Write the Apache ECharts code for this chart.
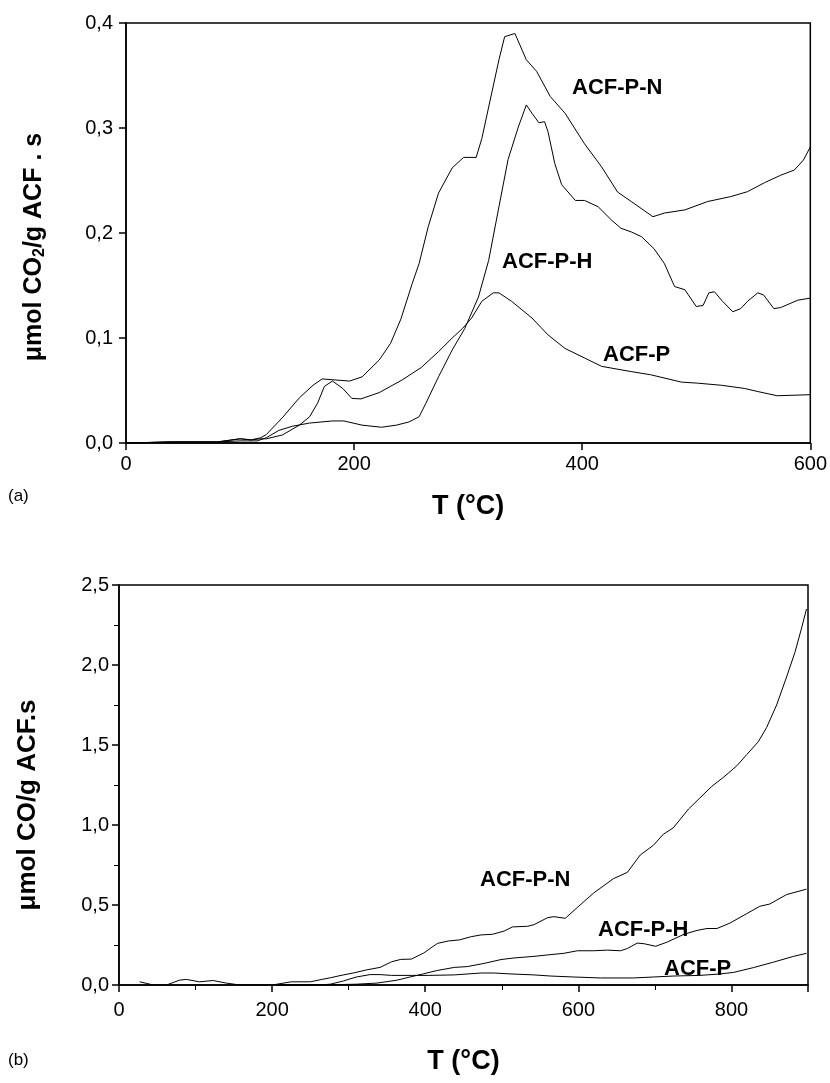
<!DOCTYPE html>
<html><head><meta charset="utf-8">
<script src="https://cdn.jsdelivr.net/npm/echarts@6/dist/echarts.min.js"></script>
<style>html,body{margin:0;padding:0;background:#fff}#c{width:830px;height:1083px}</style>
</head><body><div id="c"></div>
<script>
// ---------- Panel (a): CO2 evolution ----------
const aTicksX = [0, 200, 400, 600];
const aTicksY = ['0,0', '0,1', '0,2', '0,3', '0,4'];
const aN_T = [0,40,80,100,110,118,123,137,152,164,172,184,196,207,222,232,241,251,257,265,274,286,296,307,312,318,327,332,341,351,360,372,385,402,417,431,443,462,472,490,510,530,545,560,574,586,594,600];
const aN_V = [0,0.001,0.001,0.004,0.003,0.005,0.008,0.024,0.043,0.055,0.061,0.060,0.059,0.063,0.079,0.095,0.118,0.152,0.171,0.206,0.238,0.262,0.272,0.272,0.290,0.320,0.365,0.387,0.390,0.365,0.354,0.330,0.314,0.285,0.263,0.239,0.230,0.2155,0.219,0.222,0.230,0.2346,0.2394,0.248,0.255,0.260,0.2695,0.282];
const aH_T = [0,40,80,100,115,123,134,146,161,181,191,207,224,237,248,257,263,274,286,297,309,318,327,335,344,351,356,362,367,370,376,382,394,402,414,426,434,443,452,463,472,481,490,500,506,511,516,523,532,539,545,554,559,568,574,589,600];
const aH_V = [0,0.001,0.001,0.002,0.002,0.005,0.012,0.016,0.019,0.021,0.021,0.017,0.015,0.017,0.020,0.025,0.038,0.063,0.0886,0.109,0.139,0.174,0.225,0.270,0.301,0.322,0.314,0.305,0.306,0.2965,0.266,0.246,0.231,0.231,0.225,0.212,0.2045,0.201,0.1965,0.185,0.171,0.149,0.146,0.130,0.131,0.143,0.144,0.135,0.125,0.128,0.135,0.143,0.141,0.128,0.129,0.136,0.138];
const aP_T = [0,40,80,100,110,118,123,137,152,161,168,174,181,190,198,206,222,242,259,274,286,295,303,312,322,327,338,356,370,385,402,417,443,460,487,501,522,542,554,571,600];
const aP_V = [0,0.001,0.001,0.004,0.003,0.004,0.004,0.0076,0.017,0.025,0.038,0.054,0.059,0.052,0.0425,0.042,0.048,0.060,0.072,0.087,0.100,0.109,0.119,0.135,0.143,0.143,0.135,0.119,0.103,0.090,0.081,0.073,0.068,0.065,0.058,0.057,0.055,0.052,0.049,0.045,0.046];

// ---------- Panel (b): CO evolution ----------
const bTicksX = [0, 200, 400, 600, 800];
const bTicksY = ['0,0', '0,5', '1,0', '1,5', '2,0', '2,5'];
const bN_T = [27,45,62,79,88,105,123,140,158,200,225,250,265,276,290,306,324,341,356,368,382,398,416,430,445,460,473,488,503,514,534,542,560,568,583,599,620,646,664,681,698,711,724,744,759,774,790,807,820,835,846,859,872,883,891,898];
const bN_V = [0.02,0,0,0.03,0.035,0.02,0.028,0.012,0,0,0.02,0.02,0.035,0.045,0.06,0.075,0.095,0.11,0.145,0.16,0.162,0.2,0.26,0.275,0.282,0.302,0.313,0.317,0.337,0.363,0.367,0.377,0.421,0.427,0.417,0.486,0.575,0.665,0.704,0.813,0.873,0.942,0.982,1.10,1.17,1.24,1.30,1.37,1.44,1.52,1.61,1.75,1.925,2.08,2.22,2.35];
const bH_T = [200,260,310,337,363,380,398,415,438,455,477,499,516,542,560,581,599,620,638,655,664,677,686,701,716,738,755,768,781,798,820,837,850,872,898];
const bH_V = [0,0,0.005,0.012,0.03,0.05,0.07,0.09,0.11,0.115,0.135,0.159,0.169,0.179,0.188,0.198,0.214,0.214,0.218,0.214,0.228,0.262,0.258,0.242,0.268,0.317,0.341,0.353,0.353,0.387,0.446,0.492,0.506,0.565,0.599];
const bP_T = [200,260,276,293,310,328,341,356,367,382,404,438,473,490,512,542,564,594,629,672,698,724,759,785,803,829,855,881,898];
const bP_V = [0,0,0.005,0.025,0.05,0.065,0.065,0.06,0.06,0.06,0.06,0.063,0.075,0.075,0.069,0.063,0.056,0.05,0.044,0.044,0.05,0.056,0.06,0.069,0.079,0.109,0.143,0.179,0.198];

const seriesNames = ['ACF-P-N', 'ACF-P-H', 'ACF-P'];

const zip = (t, v) => t.map((x, i) => [x, v[i]]);
const FONT = "'Liberation Sans', Arial, sans-serif";

function xAxisCfg(grid, max, interval, minor, ticks) {
  return {
    type: 'value', gridIndex: grid, min: 0, max: max, interval: interval,
    name: 'T (°C)', nameLocation: 'middle', nameGap: grid === 0 ? 50 : 63,
    nameTextStyle: { fontFamily: FONT, fontSize: 27, fontWeight: 'bold', color: '#000' },
    axisLine: { show: true, onZero: false, lineStyle: { color: '#000', width: 1.5 } },
    axisTick: { show: true, inside: false, length: 7, lineStyle: { color: '#000', width: 1.5 } },
    minorTick: { show: minor, splitNumber: 2, length: 5, lineStyle: { color: '#000', width: 1 } },
    axisLabel: { fontFamily: FONT, fontSize: 20, color: '#000', margin: grid === 0 ? 11 : 15,
      formatter: v => ticks.indexOf(v) >= 0 ? String(v) : '' },
    splitLine: { show: false }
  };
}

const option = {
  animation: false,
  backgroundColor: '#fff',
  grid: [
    { left: 126, right: 17, top: 23, height: 420, show: true, borderColor: '#000', borderWidth: 1.5 },
    { left: 119, right: 22, top: 585, height: 400, show: true, borderColor: '#000', borderWidth: 1.5 }
  ],
  xAxis: [ xAxisCfg(0, 600, 200, false, aTicksX), xAxisCfg(1, 900, 200, true, bTicksX) ],
  yAxis: [
    {
      type: 'value', gridIndex: 0, min: 0, max: 0.4, interval: 0.1,
      name: '{b|μmol CO}{s|2}{b|/g ACF . s}', nameLocation: 'middle', nameGap: 78,
      nameTextStyle: { padding: [0, 28, 0, 0], rich: {
        b: { fontFamily: FONT, fontSize: 25, fontWeight: 'bold', color: '#000' },
        s: { fontFamily: FONT, fontSize: 16, fontWeight: 'bold', color: '#000', padding: [12, 0, 0, 0] }
      } },
      axisLine: { show: true, lineStyle: { color: '#000', width: 1.5 } },
      axisTick: { show: true, length: 7, lineStyle: { color: '#000', width: 1.5 } },
      axisLabel: { fontFamily: FONT, fontSize: 20, color: '#000', margin: 13, formatter: v => aTicksY[Math.round(v * 10)] },
      splitLine: { show: false }
    },
    {
      type: 'value', gridIndex: 1, min: 0, max: 2.5, interval: 0.5,
      name: 'μmol CO/g ACF.s', nameLocation: 'middle', nameGap: 78,
      nameTextStyle: { fontFamily: FONT, fontSize: 26, fontWeight: 'bold', color: '#000', padding: [0, 40, 0, 0] },
      axisLine: { show: true, lineStyle: { color: '#000', width: 1.5 } },
      axisTick: { show: true, length: 7, lineStyle: { color: '#000', width: 1.5 } },
      minorTick: { show: true, splitNumber: 2, length: 5, lineStyle: { color: '#000', width: 1 } },
      axisLabel: { fontFamily: FONT, fontSize: 20, color: '#000', margin: 10, formatter: v => bTicksY[Math.round(v * 2)] },
      splitLine: { show: false }
    }
  ],
  series: [
    [aN_T, aN_V, 0], [aH_T, aH_V, 0], [aP_T, aP_V, 0],
    [bN_T, bN_V, 1], [bH_T, bH_V, 1], [bP_T, bP_V, 1]
  ].map((s, i) => ({
    type: 'line', name: seriesNames[i % 3], xAxisIndex: s[2], yAxisIndex: s[2],
    data: zip(s[0], s[1]), showSymbol: false, symbol: 'none', smooth: false,
    lineStyle: { color: '#000', width: 1 }, z: 3
  })),
  graphic: [
    { type: 'text', left: 572, top: 77, style: { text: 'ACF-P-N', font: "bold 22px 'Liberation Sans', Arial", fill: '#000' } },
    { type: 'text', left: 502, top: 251, style: { text: 'ACF-P-H', font: "bold 22px 'Liberation Sans', Arial", fill: '#000' } },
    { type: 'text', left: 603, top: 344, style: { text: 'ACF-P', font: "bold 22px 'Liberation Sans', Arial", fill: '#000' } },
    { type: 'text', left: 480, top: 869, style: { text: 'ACF-P-N', font: "bold 22px 'Liberation Sans', Arial", fill: '#000' } },
    { type: 'text', left: 598, top: 919, style: { text: 'ACF-P-H', font: "bold 22px 'Liberation Sans', Arial", fill: '#000' } },
    { type: 'text', left: 664, top: 958, style: { text: 'ACF-P', font: "bold 22px 'Liberation Sans', Arial", fill: '#000' } },
    { type: 'text', left: 8, top: 488, style: { text: '(a)', font: "17px 'Liberation Sans', Arial", fill: '#000' } },
    { type: 'text', left: 8, top: 1052, style: { text: '(b)', font: "17px 'Liberation Sans', Arial", fill: '#000' } }
  ]
};

const chart = echarts.init(document.getElementById('c'), null, { renderer: 'canvas' });
chart.setOption(option);
</script>
</body></html>
